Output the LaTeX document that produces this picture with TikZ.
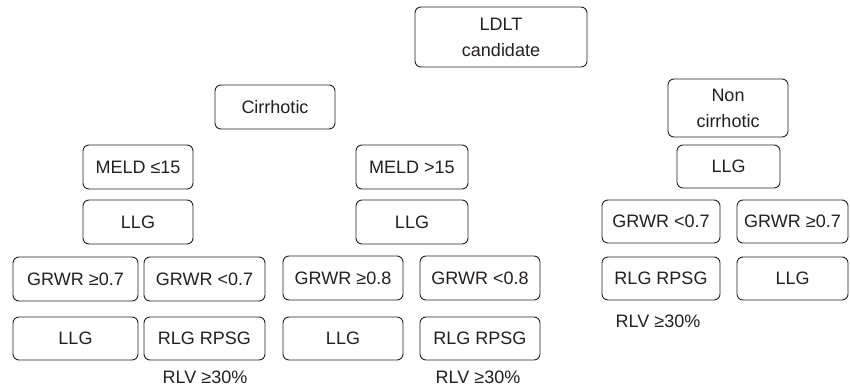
\documentclass[tikz,border=0pt]{standalone}
\usepackage{fontspec}
\setmainfont{Liberation Sans}
\definecolor{ink}{HTML}{231F20}
\begin{document}
\begin{tikzpicture}[x=1pt,y=-1pt,
  bx/.style={draw=ink, line width=0.9pt, rounded corners=6pt, text=ink, inner sep=0pt, align=center, font=\fontsize{18}{26}\selectfont},
  lbl/.style={text=ink, inner sep=0pt, font=\fontsize{18}{26}\selectfont}]
\useasboundingbox (0,0) rectangle (850,387);
\node[bx, minimum width=172, minimum height=60] (ldlt) at (501,37) {LDLT\\candidate};
\node[bx, minimum width=120, minimum height=44] (cirr) at (275,107) {Cirrhotic};
\node[bx, minimum width=120, minimum height=58] (noncirr) at (728,108) {Non\\cirrhotic};
\node[bx, minimum width=103, minimum height=43] (llgN) at (728.5,166.5) {LLG};
\node[bx, minimum width=110, minimum height=44] (meldA) at (138,167) {MELD ≤15};
\node[bx, minimum width=110, minimum height=44] (llgA) at (138,222) {LLG};
\node[bx, minimum width=112, minimum height=44] (meldB) at (412,167) {MELD >15};
\node[bx, minimum width=112, minimum height=44] (llgB) at (412,222) {LLG};
\node[bx, minimum width=125, minimum height=44] (gAa) at (75.5,279) {GRWR ≥0.7};
\node[bx, minimum width=121, minimum height=44] (gAb) at (204.5,279) {GRWR <0.7};
\node[bx, minimum width=120, minimum height=44] (gBa) at (343,278) {GRWR ≥0.8};
\node[bx, minimum width=120, minimum height=44] (gBb) at (480,278) {GRWR <0.8};
\node[bx, minimum width=125, minimum height=43] (lAa) at (75.5,338.5) {LLG};
\node[bx, minimum width=121, minimum height=43] (lAb) at (204.5,338.5) {RLG RPSG};
\node[bx, minimum width=120, minimum height=43] (lBa) at (343,338.5) {LLG};
\node[bx, minimum width=120, minimum height=43] (lBb) at (480,338.5) {RLG RPSG};
\node[lbl] (rA) at (205,377) {RLV ≥30\%};
\node[lbl] (rB) at (478,377) {RLV ≥30\%};
\node[bx, minimum width=118, minimum height=43] (gNa) at (661,221.5) {GRWR <0.7};
\node[bx, minimum width=111, minimum height=43] (gNb) at (792.5,221.5) {GRWR ≥0.7};
\node[bx, minimum width=118, minimum height=43] (lNa) at (661,278.5) {RLG RPSG};
\node[bx, minimum width=111, minimum height=43] (lNb) at (792.5,278.5) {LLG};
\node[lbl] (rN) at (658,321) {RLV ≥30\%};
\end{tikzpicture}
\end{document}
